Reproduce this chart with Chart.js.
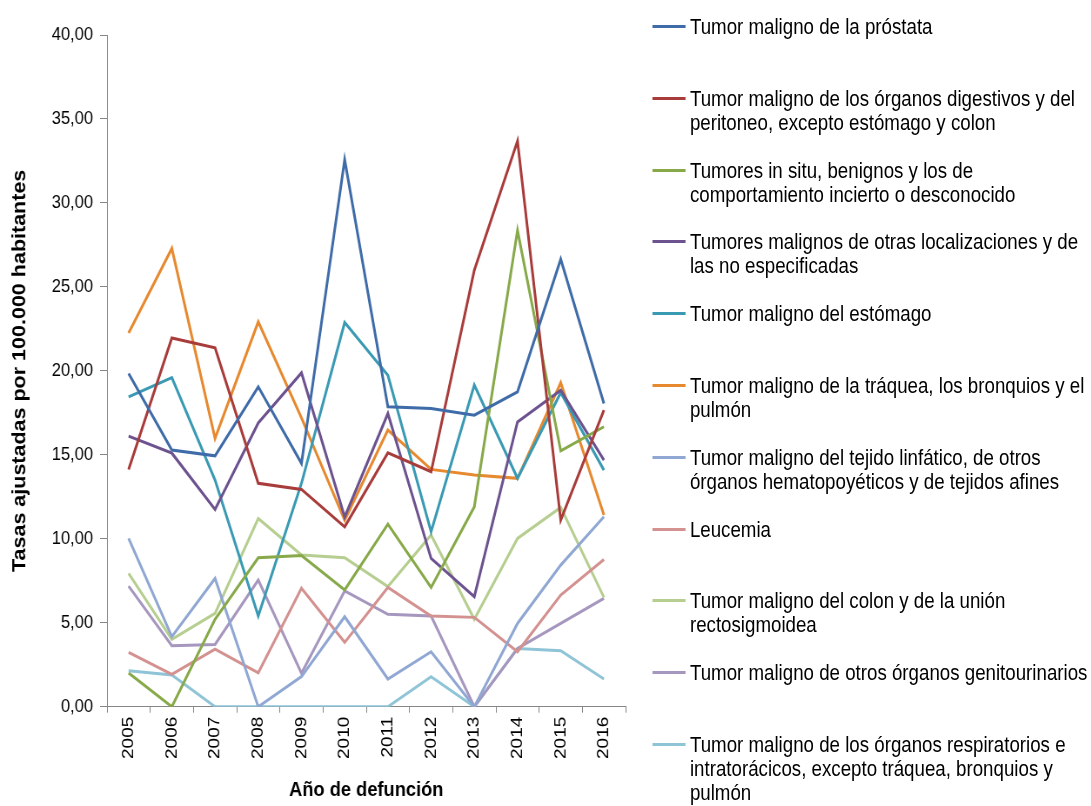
<!DOCTYPE html>
<html lang="es">
<head>
<meta charset="utf-8">
<title>Tasas ajustadas por 100.000 habitantes</title>
<script src="https://cdn.jsdelivr.net/npm/chart.js@4.4.1/dist/chart.umd.min.js"></script>
<style>
  html, body { margin: 0; padding: 0; background: #fff; overflow: hidden; width: 1091px; height: 806px; }
  /* the source image is horizontally squeezed, so the whole stage is drawn wider and scaled back */
  #stage { position: absolute; left: 0; top: 0; width: 1254px; height: 806px; transform: scaleX(0.87); transform-origin: 0 0; }
  #plot { position: absolute; left: 0; top: 0; width: 745px; height: 806px; }
  .item { position: absolute; left: 750px; font: 21.5px "Liberation Sans", Arial, sans-serif; line-height: 24px; color: #000; white-space: pre; }
  .item .swatch { position: absolute; left: 0; top: 10px; width: 38px; height: 3px; }
  .item .text { position: absolute; left: 43px; top: 0; }
</style>
</head>
<body>
<div id="stage">
  <div id="plot"><canvas id="chart"></canvas></div>
  <div id="legend"></div>
</div>
<script>
// Categories
const years = ['2005', '2006', '2007', '2008', '2009', '2010', '2011', '2012', '2013', '2014', '2015', '2016'];

// Y tick labels (0 to 40 step 5)
const yTickLabels = ['0,00', '5,00', '10,00', '15,00', '20,00', '25,00', '30,00', '35,00', '40,00'];

// Series values
const prostata = [19.84, 15.28, 14.94, 19.05, 14.49, 32.58, 17.86, 17.76, 17.36, 18.75, 26.65, 18.06];
const digestivos = [14.13, 21.96, 21.37, 13.30, 12.94, 10.71, 15.12, 13.99, 26.00, 33.69, 11.11, 17.66];
const inSitu = [2.00, 0.00, 5.20, 8.87, 9.00, 6.95, 10.87, 7.10, 11.90, 28.37, 15.24, 16.67];
const otrasLocalizaciones = [16.11, 15.10, 11.75, 16.90, 19.88, 11.30, 17.46, 8.83, 6.55, 16.96, 18.85, 14.68];
const estomago = [18.45, 19.60, 13.50, 5.40, 13.30, 22.88, 19.74, 10.42, 19.15, 13.60, 18.70, 14.09];
const traquea = [22.26, 27.29, 15.98, 22.92, 17.20, 11.10, 16.47, 14.13, 13.80, 13.60, 19.29, 11.41];
const linfatico = [10.02, 4.17, 7.64, 0.00, 1.79, 5.36, 1.65, 3.27, 0.00, 4.96, 8.43, 11.31];
const leucemia = [3.24, 1.93, 3.43, 2.02, 7.05, 3.83, 7.10, 5.40, 5.32, 3.27, 6.65, 8.77];
const colon = [7.94, 4.01, 5.56, 11.21, 9.03, 8.87, 7.15, 10.22, 5.20, 10.02, 11.87, 6.51];
const genitourinarios = [7.18, 3.63, 3.71, 7.54, 1.99, 6.89, 5.50, 5.40, 0.00, 3.47, 4.96, 6.45];
const respiratorios = [2.14, 1.89, 0.00, 0.00, 0.00, 0.00, 0.00, 1.79, 0.00, 3.47, 3.33, 1.65];

// Series names, "\n" marks where the legend wraps
const seriesNames = [
  'Tumor maligno de la próstata',
  'Tumor maligno de los órganos digestivos y del\nperitoneo, excepto estómago y colon',
  'Tumores in situ, benignos y los de\ncomportamiento incierto o desconocido',
  'Tumores malignos de otras localizaciones y de\nlas no especificadas',
  'Tumor maligno del estómago',
  'Tumor maligno de la tráquea, los bronquios y el\npulmón',
  'Tumor maligno del tejido linfático, de otros\nórganos hematopoyéticos y de tejidos afines',
  'Leucemia',
  'Tumor maligno del colon y de la unión\nrectosigmoidea',
  'Tumor maligno de otros órganos genitourinarios',
  'Tumor maligno de los órganos respiratorios e\nintratorácicos, excepto tráquea, bronquios y\npulmón'
];

const seriesValues = [prostata, digestivos, inSitu, otrasLocalizaciones, estomago, traquea,
  linfatico, leucemia, colon, genitourinarios, respiratorios];

const seriesColors = ['#3f6ca8', '#a83c3b', '#87a94a', '#6c528e', '#3a9ab3', '#e6892f',
  '#8fa7d2', '#d39190', '#b6ce90', '#a697bf', '#8fc4d7'];

const axisColor = '#868686';
const fontFamily = '"Liberation Sans", Arial, sans-serif';

const datasets = seriesValues.map((values, i) => ({
  label: seriesNames[i].replace(/\n/g, ' '),
  data: values,
  borderColor: seriesColors[i],
  backgroundColor: seriesColors[i],
  fill: false,
  order: i,
}));

new Chart(document.getElementById('chart'), {
  type: 'line',
  data: { labels: years, datasets },
  options: {
    responsive: true,
    maintainAspectRatio: false,
    animation: false,
    layout: { padding: { top: 35, right: 26, bottom: 0, left: 0 } },
    elements: {
      point: { radius: 0, hoverRadius: 0 },
      line: { tension: 0, borderWidth: 3 },
    },
    plugins: {
      legend: { display: false },
      tooltip: { enabled: false },
    },
    scales: {
      x: {
        offset: true,
        grid: { offset: true, drawOnChartArea: false, color: axisColor, tickLength: 6 },
        border: { color: axisColor },
        ticks: {
          autoSkip: false,
          minRotation: 90,
          maxRotation: 90,
          padding: 4,
          color: '#000',
          font: { family: fontFamily, size: 19 },
        },
        title: {
          display: true,
          text: 'Año de defunción',
          color: '#000',
          font: { family: fontFamily, size: 21, weight: 'bold' },
          padding: { top: 0, bottom: 3 },
        },
        afterFit(scale) {
          scale.height = 99.3;
        },
      },
      y: {
        min: 0,
        max: 40,
        grid: { drawOnChartArea: false, color: axisColor, tickLength: 8 },
        border: { color: axisColor },
        ticks: {
          stepSize: 5,
          padding: 8,
          color: '#000',
          font: { family: fontFamily, size: 19 },
          callback: (value, index) => yTickLabels[index],
        },
        title: {
          display: true,
          text: 'Tasas ajustadas por 100.000 habitantes',
          color: '#000',
          font: { family: fontFamily, size: 21.5, weight: 'bold' },
          padding: { top: 10, bottom: 0 },
        },
        afterFit(scale) {
          scale.width = 123;
        },
      },
    },
  },
});

// Legend: evenly spaced slots down the right side
const legend = document.getElementById('legend');
seriesNames.forEach((name, i) => {
  const item = document.createElement('div');
  item.className = 'item';
  item.style.top = (27 + i * 71.8 - 12) + 'px';
  const swatch = document.createElement('span');
  swatch.className = 'swatch';
  swatch.style.background = seriesColors[i];
  const text = document.createElement('span');
  text.className = 'text';
  text.textContent = name;
  item.appendChild(swatch);
  item.appendChild(text);
  legend.appendChild(item);
});
</script>
</body>
</html>
